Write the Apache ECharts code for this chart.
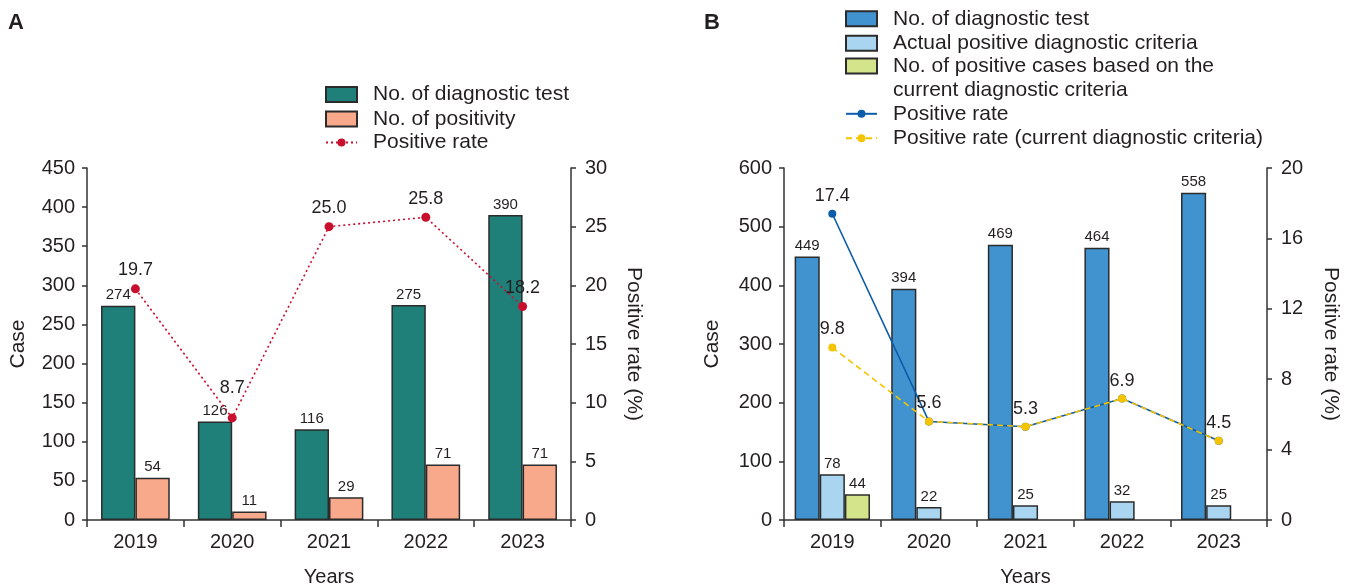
<!DOCTYPE html>
<html>
<head>
<meta charset="utf-8">
<script src="https://cdn.jsdelivr.net/npm/echarts@6/dist/echarts.min.js"></script>
<style>
  html, body { margin: 0; padding: 0; background: #fff; width: 1352px; height: 587px; overflow: hidden; }
  #chart { display: block; width: 1352px; height: 587px; overflow: hidden; }
</style>
</head>
<body>
<div id="chart"></div>
<script>
// Years shared by both panels
const years = ['2019', '2020', '2021', '2022', '2023'];

// Panel A
const testsA = [274, 126, 116, 275, 390];
const positivesA = [54, 11, 29, 71, 71];
const rateA = [19.7, 8.7, 25.0, 25.8, 18.2];

// Panel B
const testsB = [449, 394, 469, 464, 558];
const actualPosB = [78, 22, 25, 32, 25];
const currentPosB = [44, '-', '-', '-', '-'];
const rateB = [17.4, 5.6, 5.3, 6.9, 4.5];
const rateCurrentB = [9.8, 5.6, 5.3, 6.9, 4.5];

// Axis ranges / ticks
const caseAxisA = { min: 0, max: 450, interval: 50 };
const rateAxisA = { min: 0, max: 30, interval: 5 };
const caseAxisB = { min: 0, max: 600, interval: 100 };
const rateAxisB = { min: 0, max: 20, interval: 4 };

const FONT = '"Liberation Sans", Arial, Helvetica, sans-serif';
const INK = '#231f20';
const AXIS = '#333333';

const chart = echarts.init(document.getElementById('chart'), null, { renderer: 'canvas', width: 1352, height: 587 });

function xAxisFor(gridIndex) {
  return {
    type: 'category', gridIndex, data: years,
    name: 'Years', nameLocation: 'middle', nameGap: 47,
    nameTextStyle: { fontSize: 20, color: INK, fontFamily: FONT },
    axisLine: { lineStyle: { color: AXIS, width: 1.5 } },
    axisTick: { show: true, length: 7, inside: false, lineStyle: { color: AXIS, width: 1.5 } },
    axisLabel: { fontSize: 20, color: INK, fontFamily: FONT, margin: 12 },
    splitLine: { show: false }
  };
}

function yAxisFor(gridIndex, pos, range, name, nameGap, rotate, margin) {
  return Object.assign({
    type: 'value', gridIndex, position: pos,
    name, nameLocation: 'middle', nameGap, nameRotate: rotate,
    nameTextStyle: { fontSize: 21, color: INK, fontFamily: FONT },
    axisLine: { show: true, lineStyle: { color: AXIS, width: 1.5 } },
    axisTick: { show: true, length: 5, lineStyle: { color: AXIS, width: 1.5 } },
    axisLabel: { fontSize: 20, color: INK, fontFamily: FONT, margin },
    splitLine: { show: false }
  }, range);
}

const barBorder = { borderColor: '#2b2b2b', borderWidth: 1.5 };
const barLabel = { show: true, position: 'top', distance: 3, fontSize: 15, color: INK, fontFamily: FONT };
const lineLabel = {
  show: true, position: 'top', distance: 5, fontSize: 18, color: INK, fontFamily: FONT,
  formatter: p => Number(p.value).toFixed(1)
};

// legend text sits a little further from its key than the default
const legendText = { fontSize: 21, color: INK, fontFamily: FONT, lineHeight: 20, padding: [0, 0, 0, 11] };

const option = {
  animation: false,
  backgroundColor: '#ffffff',
  title: [
    { text: 'A', left: 8, top: 12, padding: 0, textStyle: { fontSize: 22, fontWeight: 'bold', color: INK, fontFamily: FONT } },
    { text: 'B', left: 704, top: 12, padding: 0, textStyle: { fontSize: 22, fontWeight: 'bold', color: INK, fontFamily: FONT } }
  ],
  legend: [
    // Panel A: bars
    { orient: 'vertical', left: 325, top: 84, padding: 0, itemWidth: 31, itemHeight: 15, itemGap: 3.5,
      textStyle: legendText,
      data: [{ name: 'No. of diagnostic test', icon: 'rect' }, { name: 'No. of positivity', icon: 'rect' }] },
    // Panel A: line
    { orient: 'vertical', left: 325, top: 132, padding: 0, itemWidth: 31, itemHeight: 10, itemGap: 3.5,
      textStyle: legendText,
      data: ['Positive rate'] },
    // Panel B: first two bars
    { orient: 'vertical', left: 845, top: 8.3, padding: 0, itemWidth: 31, itemHeight: 15, itemGap: 3.5,
      textStyle: legendText,
      data: [{ name: 'No. of diagnostic test ', icon: 'rect' }, { name: 'Actual positive diagnostic criteria', icon: 'rect' }] },
    // Panel B: two-line entry; a blank leading line keeps the key beside the first text line
    { orient: 'vertical', left: 845, top: 30, padding: 0, itemWidth: 31, itemHeight: 15,
      textStyle: { fontSize: 21, color: INK, fontFamily: FONT, lineHeight: 24, padding: [0, 0, 0, 11] },
      formatter: () => ' \nNo. of positive cases based on the\ncurrent diagnostic criteria',
      data: [{ name: 'No. of positive cases based on the current diagnostic criteria', icon: 'rect' }] },
    // Panel B: lines
    { orient: 'vertical', left: 845, top: 103.3, padding: 0, itemWidth: 31, itemHeight: 10, itemGap: 3.4,
      textStyle: legendText,
      data: ['Positive rate ', 'Positive rate (current diagnostic criteria)'] }
  ],
  // plot areas are placed exactly; axis names may run to the canvas edge
  grid: [
    { left: 87, width: 484, top: 168, height: 352, outerBoundsMode: 'none' },
    { left: 784, width: 483, top: 168, height: 352, outerBoundsMode: 'none' }
  ],
  xAxis: [xAxisFor(0), xAxisFor(1)],
  yAxis: [
    yAxisFor(0, 'left', caseAxisA, 'Case', 58, 90, 12),
    yAxisFor(0, 'right', rateAxisA, 'Positive rate (%)', 52, -90, 14),
    yAxisFor(1, 'left', caseAxisB, 'Case', 61, 90, 12),
    yAxisFor(1, 'right', rateAxisB, 'Positive rate (%)', 53, -90, 14)
  ],
  series: [
    { name: 'No. of diagnostic test', type: 'bar', xAxisIndex: 0, yAxisIndex: 0, data: testsA,
      barGap: '0%', barCategoryGap: '29%',
      itemStyle: Object.assign({ color: '#1f8079' }, barBorder), label: barLabel },
    { name: 'No. of positivity', type: 'bar', xAxisIndex: 0, yAxisIndex: 0, data: positivesA,
      barGap: '0%', barCategoryGap: '29%',
      itemStyle: Object.assign({ color: '#f8a98c' }, barBorder), label: barLabel },
    { name: 'Positive rate', type: 'line', xAxisIndex: 0, yAxisIndex: 1, data: rateA,
      symbol: 'circle', symbolSize: 9,
      lineStyle: { color: '#c8102e', width: 1.6, type: [2, 3] },
      itemStyle: { color: '#c8102e' }, label: lineLabel, z: 5,
      // lift the 2020 value clear of the bar label beneath it
      labelLayout: p => (p.dataIndex === 1 ? { dy: -11 } : {}) },

    { name: 'No. of diagnostic test ', type: 'bar', xAxisIndex: 1, yAxisIndex: 2, data: testsB,
      barGap: '0%', barCategoryGap: '22%',
      itemStyle: Object.assign({ color: '#4193d0' }, barBorder), label: barLabel },
    { name: 'Actual positive diagnostic criteria', type: 'bar', xAxisIndex: 1, yAxisIndex: 2, data: actualPosB,
      barGap: '0%', barCategoryGap: '22%',
      itemStyle: Object.assign({ color: '#a9d5f0' }, barBorder), label: barLabel },
    { name: 'No. of positive cases based on the current diagnostic criteria', type: 'bar', xAxisIndex: 1, yAxisIndex: 2, data: currentPosB,
      barGap: '0%', barCategoryGap: '22%',
      itemStyle: Object.assign({ color: '#d4e48a' }, barBorder), label: barLabel },
    { name: 'Positive rate ', type: 'line', xAxisIndex: 1, yAxisIndex: 3, data: rateB,
      symbol: 'circle', symbolSize: 8,
      lineStyle: { color: '#0b5cab', width: 1.6 },
      itemStyle: { color: '#0b5cab' },
      label: Object.assign({}, lineLabel, { formatter: p => p.dataIndex === 0 ? Number(p.value).toFixed(1) : '' }),
      z: 5 },
    { name: 'Positive rate (current diagnostic criteria)', type: 'line', xAxisIndex: 1, yAxisIndex: 3, data: rateCurrentB,
      symbol: 'circle', symbolSize: 8,
      lineStyle: { color: '#f5c400', width: 1.6, type: [6, 4] },
      itemStyle: { color: '#f5c400' }, label: lineLabel, z: 6 }
  ]
};

chart.setOption(option);
</script>
</body>
</html>
